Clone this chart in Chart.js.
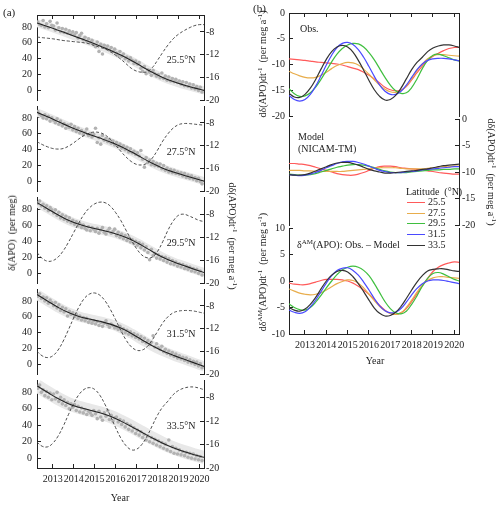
<!DOCTYPE html>
<html>
<head>
<meta charset="utf-8">
<script src="https://cdn.jsdelivr.net/npm/chart.js@4.4.0/dist/chart.umd.min.js"></script>
<style>
  body { margin: 0; background: #fff; }
  #fig { position: relative; width: 500px; height: 506px; overflow: hidden; background: #fff;
         font-family: 'Liberation Serif', 'Times New Roman', serif; color: #222; }
  #fig canvas { position: absolute; }
  .t { position: absolute; white-space: nowrap; font-size: 10px; line-height: 1; z-index: 2; }
  .c { transform: translate(-50%, -50%); }
  .rl { transform: translate(-50%, -50%) rotate(-90deg); }
  .rr { transform: translate(-50%, -50%) rotate(90deg); }
  sup { font-size: 7px; vertical-align: 4px; line-height: 0; }
  .leg { position: absolute; height: 0; width: 18px; left: 407px; z-index: 2; }
</style>
</head>
<body>
<div id="fig">
  <div class="t" style="left:3px;top:7px;font-size:11px">(a)</div>
  <div class="t" style="left:253px;top:3px;font-size:11px">(b)</div>

  <div class="t rl" style="left:12px;top:233px">δ(APO)&nbsp; (per meg)</div>
  <div class="t rr" style="left:232px;top:236px">dδ(APO)dt<sup>-1</sup>&nbsp; (per meg a<sup>-1</sup>)</div>
  <div class="t c" style="left:120px;top:498px">Year</div>

  <div class="t c lat" style="left:181px;top:60px">25.5°N</div>
  <div class="t c lat" style="left:181px;top:152px">27.5°N</div>
  <div class="t c lat" style="left:181px;top:243px">29.5°N</div>
  <div class="t c lat" style="left:181px;top:334px">31.5°N</div>
  <div class="t c lat" style="left:181px;top:426px">33.5°N</div>

  <div class="t rl" style="left:263px;top:64px">dδ(APO)dt<sup>-1</sup>&nbsp; (per meg a<sup>-1</sup>)</div>
  <div class="t rl" style="left:263px;top:272px">dδ<sup>AM</sup>(APO)dt<sup>-1</sup>&nbsp; (per meg a<sup>-1</sup>)</div>
  <div class="t rr" style="left:491px;top:172px">dδ(APO)dt<sup>-1</sup>&nbsp; (per meg a<sup>-1</sup>)</div>
  <div class="t c" style="left:375px;top:361px">Year</div>

  <div class="t" style="left:300px;top:24px">Obs.</div>
  <div class="t" style="left:298px;top:132px">Model</div>
  <div class="t" style="left:298px;top:144px">(NICAM-TM)</div>
  <div class="t" style="left:297px;top:240px">δ<sup>AM</sup>(APO): Obs. – Model</div>
  <div class="t" style="left:406px;top:187px">Latitude&nbsp; (°N)</div>
  <div id="legend"></div>
</div>
<script>
// time grids
const xMin = 2012.25, xMax = 2020.22;
const yearTicks = [2013, 2014, 2015, 2016, 2017, 2018, 2019, 2020];
const quarterYears = [2012.25, 2012.5, 2012.75,
  2013, 2013.25, 2013.5, 2013.75, 2014, 2014.25, 2014.5, 2014.75,
  2015, 2015.25, 2015.5, 2015.75, 2016, 2016.25, 2016.5, 2016.75,
  2017, 2017.25, 2017.5, 2017.75, 2018, 2018.25, 2018.5, 2018.75,
  2019, 2019.25, 2019.5, 2019.75, 2020, 2020.25];
const halfYears = [2012.25, 2012.75, 2013.25, 2013.75, 2014.25, 2014.75, 2015.25, 2015.75,
  2016.25, 2016.75, 2017.25, 2017.75, 2018.25, 2018.75, 2019.25, 2019.75, 2020.25];
const dotStart = 2012.25; // monthly samples from Apr 2012

const latitudes = ['25.5', '27.5', '29.5', '31.5', '33.5'];
const latColors = ['#ff5a5a', '#e8ad4c', '#3fbf3f', '#4a4aff', '#333333'];

// growth rate, observations (per meg a-1)
const obs255 = [-8.9, -9.0, -9.1, -9.2, -9.35, -9.5, -9.6, -9.7, -9.8, -9.9, -10.1,
  -10.4, -10.7, -11.0, -11.5, -12.1, -12.8, -13.6, -14.4, -14.9, -15.1, -15.0, -14.3,
  -13.0, -11.6, -10.3, -9.2, -8.4, -7.8, -7.3, -6.9, -6.7, -6.7];
const obs275 = [-11.3, -11.8, -12.2, -12.5, -12.6, -12.5, -12.1, -11.5, -10.8, -10.2, -9.8,
  -9.6, -9.7, -10.1, -10.9, -11.9, -13.0, -14.0, -14.8, -15.3, -15.4, -15.1, -14.2,
  -12.8, -11.2, -9.9, -8.9, -8.3, -8.1, -8.1, -8.2, -8.3, -8.4];
const obs295 = [-14.7, -15.7, -16.2, -16.1, -15.5, -14.4, -12.9, -11.2, -9.5, -8.0, -6.9,
  -6.2, -5.9, -6.0, -6.6, -7.7, -9.1, -10.8, -12.5, -14.0, -15.1, -15.6, -15.5,
  -14.5, -12.8, -10.8, -9.2, -8.2, -8.0, -8.3, -8.7, -9.1, -9.3];
const obs315 = [-16.0, -16.8, -17.1, -16.8, -15.8, -14.2, -12.2, -10.1, -8.2, -6.7, -5.9,
  -5.7, -6.1, -7.1, -8.6, -10.4, -12.3, -14.0, -15.2, -15.8, -15.8, -15.2, -14.0,
  -12.5, -11.0, -9.9, -9.2, -8.9, -8.8, -8.8, -8.9, -9.1, -9.3];
const obs335 = [-15.6, -16.3, -16.4, -15.8, -14.6, -12.9, -10.9, -9.0, -7.5, -6.6, -6.3,
  -6.6, -7.6, -9.2, -11.1, -13.1, -14.9, -16.2, -16.9, -16.8, -16.0, -14.6, -12.8,
  -11.0, -9.6, -8.6, -7.5, -6.8, -6.4, -6.2, -6.2, -6.4, -6.7];

// growth rate, NICAM-TM
const model255 = [-8.4, -8.4, -8.5, -8.6, -8.8, -9.1, -9.4, -9.7, -10.0, -10.3, -10.5,
  -10.6, -10.6, -10.4, -10.1, -9.7, -9.3, -9.0, -8.9, -8.9, -9.0, -9.2, -9.3,
  -9.4, -9.5, -9.6, -9.8, -9.9, -10.1, -10.2, -10.3, -10.4, -10.4];
const model275 = [-9.7, -9.7, -9.7, -9.8, -9.8, -9.9, -9.9, -9.9, -9.9, -9.9, -9.9,
  -9.8, -9.7, -9.6, -9.5, -9.4, -9.3, -9.2, -9.2, -9.2, -9.2, -9.3, -9.4,
  -9.4, -9.4, -9.4, -9.3, -9.2, -9.1, -9.0, -9.0, -8.9, -8.9];
const model295 = [-10.4, -10.5, -10.6, -10.6, -10.5, -10.3, -10.0, -9.7, -9.4, -9.1, -8.9,
  -8.7, -8.6, -8.6, -8.7, -8.9, -9.2, -9.5, -9.8, -10.0, -10.1, -10.1, -10.1,
  -10.0, -9.9, -9.8, -9.7, -9.6, -9.6, -9.5, -9.5, -9.4, -9.4];
const model315 = [-10.5, -10.6, -10.7, -10.6, -10.4, -10.1, -9.7, -9.2, -8.8, -8.4, -8.1,
  -8.0, -8.0, -8.2, -8.5, -8.9, -9.3, -9.7, -9.9, -10.1, -10.1, -10.1, -10.0,
  -9.9, -9.8, -9.6, -9.5, -9.4, -9.3, -9.2, -9.1, -9.0, -9.0];
const model335 = [-10.5, -10.6, -10.6, -10.5, -10.2, -9.8, -9.4, -9.0, -8.6, -8.3, -8.2,
  -8.2, -8.4, -8.7, -9.1, -9.5, -9.8, -10.0, -10.2, -10.2, -10.1, -10.0, -9.9,
  -9.8, -9.7, -9.5, -9.4, -9.2, -9.0, -8.8, -8.7, -8.6, -8.5];

// delta AM growth rate: obs - model
const diff255 = [-0.4, -0.6, -0.7, -0.7, -0.5, -0.2, 0.1, 0.3, 0.3, 0.3, 0.2,
  0.0, -0.4, -1.0, -1.7, -2.5, -3.5, -4.6, -5.5, -6.1, -6.3, -6.0, -5.2,
  -3.9, -2.4, -0.9, 0.5, 1.8, 2.6, 3.1, 3.4, 3.6, 3.5];
const diff275 = [-1.5, -1.9, -2.3, -2.5, -2.6, -2.5, -2.2, -1.7, -1.1, -0.5, -0.1,
  0.2, 0.1, -0.4, -1.3, -2.5, -3.7, -4.8, -5.6, -6.1, -6.3, -6.0, -5.0,
  -3.6, -2.1, -0.8, 0.1, 0.6, 0.8, 0.8, 0.7, 0.6, 0.5];
const diff295 = [-4.3, -5.0, -5.4, -5.5, -5.0, -4.0, -2.7, -1.3, 0.0, 1.2, 2.1,
  2.6, 2.8, 2.6, 2.0, 1.0, -0.5, -2.2, -3.9, -5.2, -6.0, -6.2, -5.7,
  -4.4, -2.8, -1.0, 0.5, 1.4, 1.6, 1.3, 0.8, 0.3, 0.0];
const diff315 = [-5.5, -5.9, -6.1, -5.8, -4.9, -3.6, -2.0, -0.4, 1.0, 2.0, 2.4,
  2.5, 2.0, 1.1, -0.2, -1.7, -3.3, -4.7, -5.6, -6.0, -5.9, -5.2, -4.0,
  -2.6, -1.4, -0.5, 0.0, 0.2, 0.2, 0.1, -0.1, -0.3, -0.5];
const diff335 = [-5.0, -5.5, -5.7, -5.3, -4.4, -3.1, -1.5, 0.0, 1.1, 1.8, 2.0,
  1.7, 0.8, -0.5, -2.0, -3.6, -5.1, -6.1, -6.6, -6.5, -5.9, -4.8, -3.3,
  -1.7, -0.2, 1.0, 1.9, 2.2, 2.3, 2.3, 2.1, 1.9, 1.8];

// smoothed delta(APO) trend (per meg), half-year knots
const trend255 = [85, 80.5, 75.9, 71.1, 66.2, 61.2, 56.0, 50.5, 44.5, 37.7, 30.2, 22.8, 16.3, 11.2, 7.0, 3.3, -0.1];
const trend275 = [87, 81.4, 75.5, 69.6, 64.1, 59.2, 54.6, 49.7, 44.0, 37.3, 30.0, 22.8, 16.7, 11.9, 7.9, 4.1, 0.1];
const trend295 = [88, 80.5, 72.8, 66.0, 61.0, 57.3, 54.3, 51.2, 47.2, 41.8, 34.8, 27.2, 20.0, 14.3, 9.7, 5.2, 0.8];
const trend315 = [88, 79.9, 72.0, 65.3, 60.5, 57.2, 54.3, 50.8, 45.8, 39.0, 31.2, 23.5, 17.0, 11.6, 6.8, 2.0, -2.6];
const trend335 = [88, 80.0, 72.4, 66.2, 61.8, 58.5, 55.2, 50.8, 45.0, 38.5, 31.5, 24.5, 18.0, 12.5, 8.0, 4.2, 0.8];

// monthly delta(APO) observations (per meg), Apr 2012 - Feb 2020
const dots255 = [86, 83, 82, 88, 80, 84, 79, 87, 82,
  81, 76, 85, 79, 74, 78, 73, 77, 72, 75, 71, 74,
  70, 73, 66, 69, 72, 64, 67, 62, 65, 60, 63, 58,
  55, 61, 49, 58, 46, 57, 53, 56, 51, 54, 49, 52,
  47, 44, 49, 43, 46, 40, 42, 37, 41, 38, 34, 37,
  33, 35, 28, 24, 30, 21, 26, 23, 19, 25, 21, 18,
  20, 16, 22, 15, 18, 13, 17, 12, 15, 11, 14, 10,
  12, 8, 11, 6, 10, 5, 8, 3, 7, 2, 5, 0,
  4, -2];
const dots275 = [88, 85, 83, 80, 84, 79, 82, 76, 80,
  77, 74, 79, 72, 76, 70, 73, 67, 71, 68, 72, 65,
  69, 63, 67, 61, 64, 59, 62, 66, 58, 60, 56, 59,
  67, 49, 55, 47, 58, 52, 54, 50, 53, 48, 51, 46,
  49, 44, 47, 42, 45, 40, 43, 37, 41, 36, 38, 34,
  36, 32, 39, 28, 18, 30, 24, 27, 21, 25, 20, 23,
  19, 22, 16, 20, 14, 17, 12, 15, 11, 14, 10, 12,
  9, 11, 7, 10, 5, 8, 4, 7, 3, 5, 1, 4,
  0, -3];
const dots295 = [87, 90, 84, 86, 81, 84, 78, 82, 79,
  75, 79, 72, 76, 69, 73, 67, 71, 65, 69, 63, 66,
  61, 64, 59, 62, 57, 60, 56, 54, 58, 53, 57, 55,
  52, 56, 50, 54, 57, 51, 49, 53, 56, 50, 52, 55,
  47, 51, 45, 49, 43, 47, 41, 45, 39, 42, 37, 40,
  35, 38, 32, 36, 29, 33, 26, 17, 30, 22, 25, 19,
  23, 18, 21, 16, 20, 14, 18, 12, 16, 11, 14, 9,
  12, 8, 11, 6, 9, 5, 8, 3, 6, 2, 5, 0,
  3, -2];
const dots315 = [86, 89, 83, 85, 80, 84, 77, 81, 78,
  74, 78, 71, 75, 68, 72, 66, 70, 61, 67, 63, 65,
  60, 63, 58, 61, 56, 59, 55, 58, 53, 56, 52, 55,
  51, 54, 49, 53, 48, 52, 55, 50, 47, 51, 49, 46,
  47, 44, 48, 42, 45, 40, 43, 38, 41, 36, 39, 34,
  37, 32, 35, 29, 33, 27, 30, 25, 28, 36, 22, 26,
  21, 19, 23, 16, 19, 14, 17, 12, 15, 10, 13, 8,
  11, 7, 9, 5, 8, 3, 6, 2, 4, 0, 3, -2,
  1, -4];
const dots335 = [85, 89, 80, 83, 76, 81, 74, 79, 71,
  78, 72, 80, 69, 74, 66, 71, 64, 68, 60, 66, 62,
  65, 58, 63, 56, 61, 55, 59, 53, 57, 55, 52, 58,
  54, 48, 57, 50, 46, 55, 51, 58, 47, 52, 45, 49,
  50, 44, 47, 41, 45, 38, 42, 35, 40, 33, 37, 30,
  34, 28, 32, 25, 29, 22, 27, 20, 25, 18, 23, 16,
  21, 14, 19, 12, 17, 10, 22, 8, 14, 6, 12, 5,
  10, 4, 8, 3, 7, 1, 6, 0, 5, -1, 3, -2,
  2, -3];

const trends = [trend255, trend275, trend295, trend315, trend335];
const obsRates = [obs255, obs275, obs295, obs315, obs335];
const modelRates = [model255, model275, model295, model315, model335];
const diffRates = [diff255, diff275, diff295, diff315, diff335];
const dotSeries = [dots255, dots275, dots295, dots315, dots335];

const leftTicksA = [0, 20, 40, 60, 80];
const rightTicksA = [-20, -16, -12, -8];
const ticksObs = [-20, -15, -10, -5, 0];
const ticksDiff = [-10, -5, 0, 5, 10];

Chart.defaults.font.family = "'Liberation Serif', 'Times New Roman', serif";
Chart.defaults.font.size = 10;
Chart.defaults.color = '#222';
Chart.defaults.plugins.legend.display = false;
Chart.defaults.plugins.tooltip.enabled = false;

const fig = document.getElementById('fig');
const INK = '#222';

function addCanvas(left, top, w, h) {
  const c = document.createElement('canvas');
  c.width = w; c.height = h;
  c.style.left = left + 'px'; c.style.top = top + 'px';
  c.style.width = w + 'px'; c.style.height = h + 'px';
  fig.appendChild(c);
  return c;
}

const pts = (xs, ys) => ys.map((y, i) => ({ x: xs[i], y: y }));
const monthly = ys => ys.map((y, i) => ({ x: dotStart + (i + 0.5) / 12, y: y }));

// x axis: shown = ticks visible, height = box height in px
function yearAxis(pos, shown, labels, height) {
  return {
    type: 'linear', position: pos, min: xMin, max: xMax, display: shown,
    afterBuildTicks: s => { s.ticks = yearTicks.map(v => ({ value: v })); },
    afterFit: s => { s.height = height; },
    border: { color: INK, width: 1 },
    grid: { drawOnChartArea: false, tickLength: -4, color: INK },
    ticks: { display: labels, padding: 9, autoSkip: false, maxRotation: 0, callback: v => String(v) }
  };
}

function valueAxis(pos, min, max, ticks, width, show, pad) {
  return {
    type: 'linear', position: pos, min: min, max: max,
    afterBuildTicks: s => { s.ticks = ticks.map(v => ({ value: v })); },
    afterFit: s => { s.width = width; },
    border: { color: INK, width: 1 },
    grid: { drawOnChartArea: false, drawTicks: show, tickLength: -4, color: INK },
    ticks: { display: show, padding: pad, autoSkip: false, callback: v => String(v) }
  };
}

function build(canvas, datasets, scales, pad) {
  new Chart(canvas.getContext('2d'), {
    type: 'line',
    data: { datasets: datasets },
    options: {
      responsive: false, animation: false, devicePixelRatio: 1,
      layout: { padding: pad, autoPadding: false },
      scales: scales,
      elements: { point: { radius: 0 } }
    }
  });
}

// ---- panel (a): five latitude bands ----
const aTops = [12, 103, 194, 286, 377, 468];
const bandWidth = [8, 8, 9, 10, 13];
for (let k = 0; k < 5; k++) {
  const top = aTops[k], h = aTops[k + 1] - top;
  const first = k === 0, last = k === 4;
  const padT = 12, padB = last ? 4 : 12, xH = last ? 22 : 0;
  const cv = addCanvas(0, top - padT, 250, h + padT + padB + xH);
  const scales = {
    x: yearAxis('bottom', last, true, xH),
    y: valueAxis('left', -12, 95, leftTicksA, 37, true, 9),
    y2: valueAxis('right', -20, -5, rightTicksA, 46, true, 6)
  };
  if (first) scales.xt = yearAxis('top', true, false, 0);
  build(cv, [
    { data: pts(halfYears, trends[k]), yAxisID: 'y', borderColor: '#222', borderWidth: 1.1, tension: 0.4, order: 0 },
    { data: pts(quarterYears, obsRates[k]), yAxisID: 'y2', borderColor: '#3a3a3a', borderWidth: 0.9, borderDash: [3, 2], tension: 0.4, order: 1 },
    { data: monthly(dotSeries[k]), yAxisID: 'y', showLine: false, pointRadius: 1.8, pointBorderWidth: 0, pointBackgroundColor: '#b2b2b2', order: 2 },
    { data: pts(halfYears, trends[k]), yAxisID: 'y', borderColor: '#e8e8e8', borderWidth: bandWidth[k], tension: 0.4, order: 3 }
  ], scales, { top: padT, bottom: padB, left: 0, right: 0 });
}

// ---- panel (b): obs, model, obs - model ----
const bTops = [11, 118, 226, 334];
const bPanels = [
  { series: obsRates, axis: 'y', min: -20, max: 0, ticks: ticksObs, leftShow: true, rightShow: false },
  { series: modelRates, axis: 'y2', min: -20, max: 0, ticks: ticksObs, leftShow: false, rightShow: true },
  { series: diffRates, axis: 'y', min: -10, max: 10, ticks: ticksDiff, leftShow: true, rightShow: false }
];
bPanels.forEach((p, k) => {
  const top = bTops[k], h = bTops[k + 1] - top;
  const first = k === 0, last = k === 2;
  const padT = 12, padB = last ? 4 : 12, xH = last ? 22 : 0;
  const cv = addCanvas(250, top - padT, 250, h + padT + padB + xH);
  const scales = {
    x: yearAxis('bottom', last, true, xH),
    y: valueAxis('left', p.min, p.max, p.ticks, 39, p.leftShow, 8),
    y2: valueAxis('right', p.min, p.max, p.ticks, 41, p.rightShow, 7)
  };
  if (first) scales.xt = yearAxis('top', true, false, 0);
  const ds = p.series.map((s, i) => ({
    data: pts(quarterYears, s), yAxisID: p.axis, borderColor: latColors[i], borderWidth: 1.2, tension: 0.4, order: 4 - i
  }));
  build(cv, ds, scales, { top: padT, bottom: padB, left: 0, right: 0 });
});

// legend of panel (b)
const legendTops = [202, 213, 223, 234, 245];
const legend = document.getElementById('legend');
latitudes.forEach((lat, i) => {
  const ln = document.createElement('div');
  ln.className = 'leg';
  ln.style.top = legendTops[i] + 'px';
  ln.style.borderTop = '1.3px solid ' + latColors[i];
  legend.appendChild(ln);
  const tx = document.createElement('div');
  tx.className = 't';
  tx.style.left = '428px';
  tx.style.top = (legendTops[i] - 5) + 'px';
  tx.textContent = lat;
  legend.appendChild(tx);
});
</script>
</body>
</html>
